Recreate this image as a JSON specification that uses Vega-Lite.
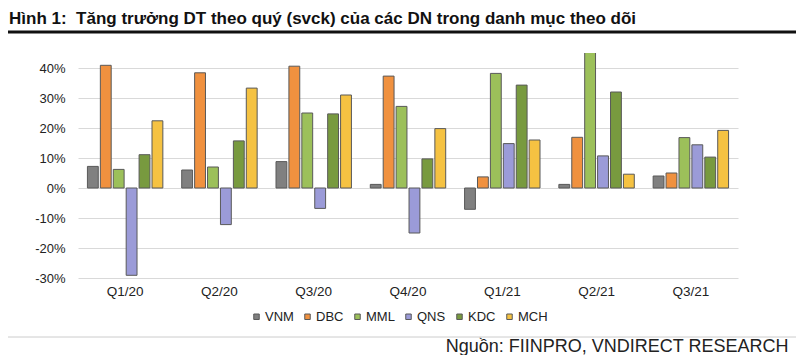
{
  "$schema": "https://vega.github.io/schema/vega-lite/v6.json",
  "width": 660,
  "height": 225,
  "autosize": {"type": "none"},
  "padding": {"left": 78, "top": 53, "right": 62, "bottom": 77},
  "background": "white",
  "title": {
    "text": "Hình 1:\u00a0 Tăng trưởng DT theo quý (svck) của các DN trong danh mục theo dõi",
    "anchor": "start",
    "frame": "group",
    "dx": -69,
    "dy": 18,
    "offset": 8,
    "baseline": "alphabetic",
    "font": "Liberation Sans",
    "fontSize": 17,
    "fontWeight": "bold",
    "color": "#111111"
  },
  "config": {
    "view": {"stroke": null},
    "font": "Liberation Sans"
  },
  "layer": [
    {
      "data": {
        "values": [
          {"q": "Q1/20", "c": "VNM", "v": 7.2},
          {"q": "Q1/20", "c": "DBC", "v": 40.9},
          {"q": "Q1/20", "c": "MML", "v": 6.2},
          {"q": "Q1/20", "c": "QNS", "v": -29.1},
          {"q": "Q1/20", "c": "KDC", "v": 11.1},
          {"q": "Q1/20", "c": "MCH", "v": 22.4},
          {"q": "Q2/20", "c": "VNM", "v": 6.0},
          {"q": "Q2/20", "c": "DBC", "v": 38.4},
          {"q": "Q2/20", "c": "MML", "v": 7.0},
          {"q": "Q2/20", "c": "QNS", "v": -12.2},
          {"q": "Q2/20", "c": "KDC", "v": 15.7},
          {"q": "Q2/20", "c": "MCH", "v": 33.3},
          {"q": "Q3/20", "c": "VNM", "v": 8.8},
          {"q": "Q3/20", "c": "DBC", "v": 40.6},
          {"q": "Q3/20", "c": "MML", "v": 25.0},
          {"q": "Q3/20", "c": "QNS", "v": -6.8},
          {"q": "Q3/20", "c": "KDC", "v": 24.7},
          {"q": "Q3/20", "c": "MCH", "v": 31.0},
          {"q": "Q4/20", "c": "VNM", "v": 1.2},
          {"q": "Q4/20", "c": "DBC", "v": 37.3},
          {"q": "Q4/20", "c": "MML", "v": 27.2},
          {"q": "Q4/20", "c": "QNS", "v": -15.0},
          {"q": "Q4/20", "c": "KDC", "v": 9.7},
          {"q": "Q4/20", "c": "MCH", "v": 19.8},
          {"q": "Q1/21", "c": "VNM", "v": -7.1},
          {"q": "Q1/21", "c": "DBC", "v": 3.7},
          {"q": "Q1/21", "c": "MML", "v": 38.2},
          {"q": "Q1/21", "c": "QNS", "v": 14.8},
          {"q": "Q1/21", "c": "KDC", "v": 34.3},
          {"q": "Q1/21", "c": "MCH", "v": 16.0},
          {"q": "Q2/21", "c": "VNM", "v": 1.2},
          {"q": "Q2/21", "c": "DBC", "v": 16.9},
          {"q": "Q2/21", "c": "MML", "v": 47.0},
          {"q": "Q2/21", "c": "QNS", "v": 10.7},
          {"q": "Q2/21", "c": "KDC", "v": 32.0},
          {"q": "Q2/21", "c": "MCH", "v": 4.6},
          {"q": "Q3/21", "c": "VNM", "v": 4.0},
          {"q": "Q3/21", "c": "DBC", "v": 5.0},
          {"q": "Q3/21", "c": "MML", "v": 16.8},
          {"q": "Q3/21", "c": "QNS", "v": 14.4},
          {"q": "Q3/21", "c": "KDC", "v": 10.3},
          {"q": "Q3/21", "c": "MCH", "v": 19.2}
        ]
      },
      "mark": {"type": "bar", "clip": true, "stroke": "#595959", "strokeWidth": 1},
      "encoding": {
        "x": {
          "field": "q",
          "type": "nominal",
          "sort": null,
          "scale": {"paddingInner": 0.2, "paddingOuter": 0.1},
          "axis": {
            "title": "Nguồn: FIINPRO, VNDIRECT RESEARCH",
            "titleAnchor": "end",
            "titleAlign": "right",
            "titleX": 710,
            "titleY": 73,
            "titleBaseline": "alphabetic",
            "titleFont": "Liberation Sans",
            "titleFontSize": 18,
            "titleFontWeight": "normal",
            "titleColor": "#222222",
            "labelAngle": 0,
            "labelFontSize": 13.5,
            "labelColor": "#222222",
            "labelPadding": 6,
            "domain": false,
            "ticks": false
          }
        },
        "xOffset": {
          "field": "c",
          "type": "nominal",
          "sort": ["VNM", "DBC", "MML", "QNS", "KDC", "MCH"],
          "scale": {"paddingInner": 0.16}
        },
        "y": {
          "field": "v",
          "type": "quantitative",
          "scale": {"domain": [-30, 45], "nice": false, "zero": false},
          "axis": {
            "title": null,
            "values": [-30, -20, -10, 0, 10, 20, 30, 40],
            "labelExpr": "datum.value + '%'",
            "labelFontSize": 13,
            "labelColor": "#222222",
            "labelPadding": 13,
            "ticks": false,
            "domain": false,
            "gridColor": "#d9d9d9",
            "gridWidth": 1
          }
        },
        "color": {
          "field": "c",
          "type": "nominal",
          "scale": {
            "domain": ["VNM", "DBC", "MML", "QNS", "KDC", "MCH"],
            "range": ["#808080", "#f0913f", "#9cc05a", "#9b9bd8", "#789a3f", "#f5c242"]
          },
          "legend": {
            "title": null,
            "orient": "none",
            "direction": "horizontal",
            "legendX": 172,
            "legendY": 257,
            "symbolType": "square",
            "symbolSize": 30,
            "symbolStrokeColor": "#595959",
            "symbolStrokeWidth": 1,
            "labelFontSize": 13,
            "labelColor": "#222222",
            "labelOffset": 2,
            "columnPadding": 7
          }
        }
      }
    },
    {
      "data": {"values": [{"k": "title-rule"}]},
      "mark": {"type": "rule", "stroke": "#111111", "strokeWidth": 3},
      "encoding": {
        "x": {"value": -70},
        "x2": {"value": 718},
        "y": {"value": -21}
      }
    },
    {
      "data": {"values": [{"k": "source-rule"}]},
      "mark": {"type": "rule", "stroke": "#cccccc", "strokeWidth": 1},
      "encoding": {
        "x": {"value": -70},
        "x2": {"value": 718},
        "y": {"value": 284}
      }
    }
  ]
}
